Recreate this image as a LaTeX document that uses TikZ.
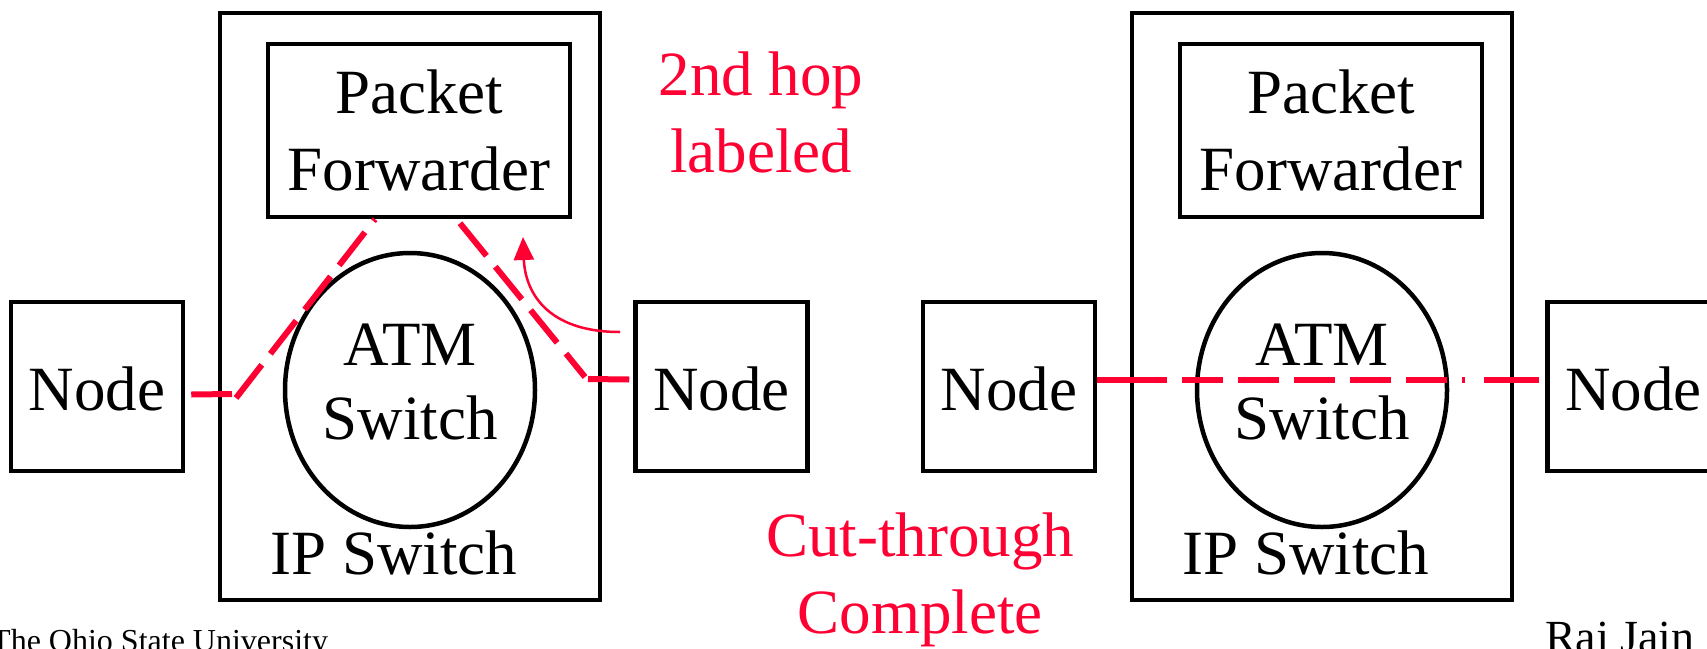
\documentclass[tikz,border=0pt]{standalone}
\usepackage{fontspec}
\setmainfont{Liberation Serif}
\usetikzlibrary{shapes.geometric,arrows.meta,calc}
\definecolor{hopred}{RGB}{255,0,51}
\begin{document}
\begin{tikzpicture}[x=1pt,y=-1pt,
  bigfont/.style={font=\fontsize{63}{77}\selectfont},
  frame/.style={draw, line width=4.5pt, rectangle, inner sep=0pt},
  nodebox/.style={frame, minimum width=172pt, minimum height=169pt, bigfont,
                  text height=48pt, text depth=0pt},
  swbox/.style={frame, minimum width=380pt, minimum height=587pt},
  fwdbox/.style={frame, minimum width=302pt, minimum height=173pt, bigfont, align=center},
  atmcircle/.style={draw, line width=4.5pt, ellipse, inner sep=0pt,
                    minimum width=250pt, minimum height=274pt},
  label/.style={bigfont, inner sep=0pt, align=center},
  atmlabel/.style={label, font=\fontsize{63}{74}\selectfont},
  redlabel/.style={label, text=hopred},
  stub/.style={draw=hopred, line width=6pt},
  hoppath/.style={draw=hopred, line width=6pt, dash pattern=on 42pt off 14pt},
  cutpath/.style={draw=hopred, line width=6pt,
     dash pattern=on 70pt off 15pt on 41pt off 15pt on 41pt off 15pt on 41pt off 15pt
                  on 41pt off 15pt on 41pt off 15pt on 3pt off 19pt on 80pt},
  bendarrow/.style={draw=hopred, line width=2.5pt, -{Triangle[length=23pt,width=20pt]}}
]
\clip (0,0) rectangle (1707,648);

% ---------- left switch: second hop labelled ----------
\node[swbox] (sw1) at (410,306.5) {};
\node[fwdbox] (pf1) at (419,130.5) {Packet\\Forwarder};
\node[atmcircle] (atm1) at (410,390) {};
\node[atmlabel, anchor=north] (atmtx1) at (410,324) {ATM\\Switch};
\node[label, anchor=base] (ip1) at (394,574) {IP Switch};
\node[nodebox] (n1) at (97,386.5) {Node};
\node[nodebox] (n2) at (721.5,386.5) {Node};

% packet path up through the forwarder and back down
\coordinate (c1a) at (232,394);
\coordinate (c1b) at (236,398);
\coordinate (c2a) at (585,377);
\coordinate (c2b) at (588,379);
\draw[stub] ([xshift=6pt,yshift=-8pt]n1.east) -- (c1a);
\draw[hoppath] (c1b) -- (pf1.south -| 375,0);
\draw[hoppath] ([yshift=-4pt]pf1.south -| 460,0) -- (c2a);
\draw[stub] (c2b) -- ([xshift=-4pt,yshift=7pt]n2.west);

\coordinate (arrs) at (620,332);
\coordinate (arre) at (523,237);
\draw[bendarrow] (arrs) .. controls (545,332) and (525,290) .. (arre);

\node[redlabel, anchor=north] (hop) at (761,52) {2nd hop\\labeled};
\node[redlabel, anchor=north] (cut) at (920,513) {Cut-through\\Complete};

% ---------- right switch: cut-through ----------
\node[swbox] (sw2) at (1322,306.5) {};
\node[fwdbox] (pf2) at (1331,130.5) {Packet\\Forwarder};
\node[atmcircle] (atm2) at (1322,390) {};
\node[atmlabel, anchor=north] (atmtx2) at (1322,324) {ATM\\Switch};
\node[label, anchor=base] (ip2) at (1306,574) {IP Switch};
\node[nodebox] (n3) at (1009,386.5) {Node};
\node[nodebox] (n4) at (1633.5,386.5) {Node};

\draw[cutpath] ([yshift=7pt]n3.east) -- ([xshift=-6pt,yshift=7pt]n4.west);

% ---------- footer ----------
\node[font=\fontsize{32}{38}\selectfont, anchor=base west, inner sep=0pt] (univ) at (-9,651) {The Ohio State University};
\node[font=\fontsize{46}{54}\selectfont, anchor=base west, inner sep=0pt] (auth) at (1545,652) {Raj Jain};
\end{tikzpicture}
\end{document}
